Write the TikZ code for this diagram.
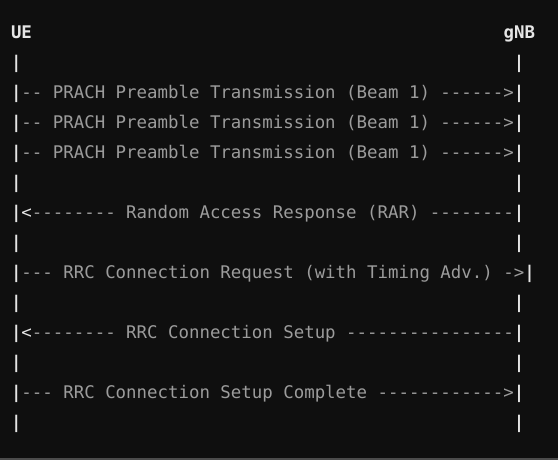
\documentclass[tikz,border=0pt]{standalone}
\usepackage{fontspec}
\setmonofont{DejaVu Sans Mono}
\usepackage{tikz}

\definecolor{codebg}{HTML}{0F0F0F}
\definecolor{codetxt}{HTML}{9C9C9C}
\definecolor{codebar}{HTML}{E6E6E6}
\definecolor{codeedge}{HTML}{4C4C4C}

\newcommand{\gap}[1]{\hspace*{#1\fontcharwd\font`M}}
\newcommand{\vb}{\textcolor{codebar}{\bfseries|}}
\newcommand{\lt}{\textcolor{codebar}{<}}

\begin{document}
\begin{tikzpicture}[x=1pt,y=1pt,
    msg/.style={anchor=base west,inner sep=0pt,text=codetxt,
        font=\ttfamily\fontsize{17.4}{20}\selectfont},
    actor/.style={msg,text=codebar,font=\ttfamily\bfseries\fontsize{17.4}{20}\selectfont}]

    % Block
    \fill[codebg] (0,0) rectangle (558,460);
    \fill[codeedge] (0,0) rectangle (558,2);
    \useasboundingbox (0,0) rectangle (558,460);

    % Actors
    \node[actor] (ue) at (10.8,421) {UE};
    \node[actor] (gnb) at (503.4,421) {gNB};

    % Lifelines and messages
    \node[msg] (r1) at (10.8,391) {\vb\gap{47}\vb};
    \node[msg] (prach1) at (10.8,361) {\vb-- PRACH Preamble Transmission (Beam 1) ------>\vb};
    \node[msg] (prach2) at (10.8,331) {\vb-- PRACH Preamble Transmission (Beam 1) ------>\vb};
    \node[msg] (prach3) at (10.8,301) {\vb-- PRACH Preamble Transmission (Beam 1) ------>\vb};
    \node[msg] (r2) at (10.8,271) {\vb\gap{47}\vb};
    \node[msg] (rar) at (10.8,241) {\vb\lt-------- Random Access Response (RAR) --------\vb};
    \node[msg] (r3) at (10.8,211) {\vb\gap{47}\vb};
    \node[msg] (req) at (10.8,181) {\vb--- RRC Connection Request (with Timing Adv.) ->\vb};
    \node[msg] (r4) at (10.8,151) {\vb\gap{47}\vb};
    \node[msg] (setup) at (10.8,121) {\vb\lt-------- RRC Connection Setup ----------------\vb};
    \node[msg] (r5) at (10.8,91) {\vb\gap{47}\vb};
    \node[msg] (done) at (10.8,61) {\vb--- RRC Connection Setup Complete ------------>\vb};
    \node[msg] (r6) at (10.8,31) {\vb\gap{47}\vb};
\end{tikzpicture}
\end{document}
